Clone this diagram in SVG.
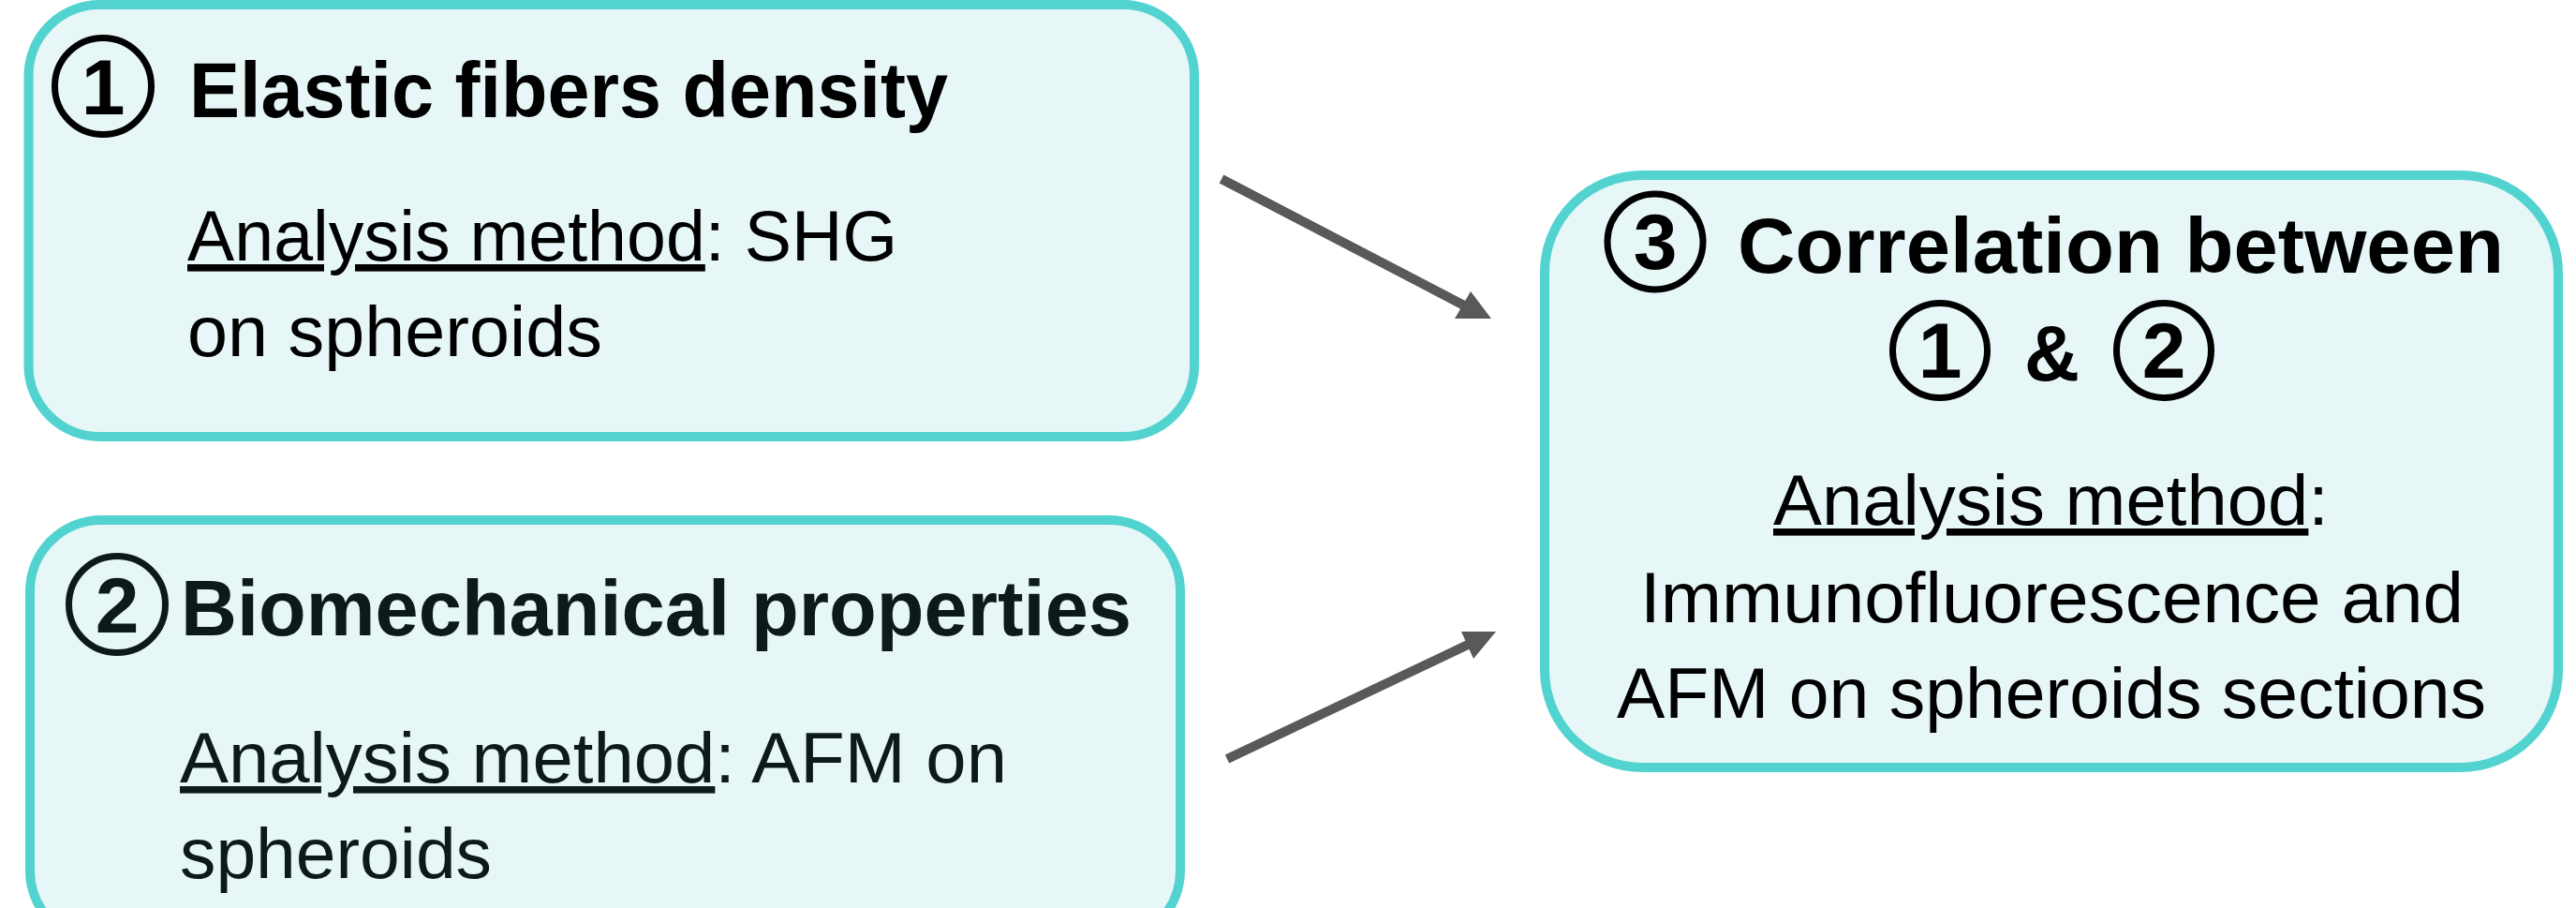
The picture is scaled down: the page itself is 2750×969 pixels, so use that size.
<svg xmlns="http://www.w3.org/2000/svg" width="2750" height="969" viewBox="0 0 2750 969">
<style>
.box{fill:#E7F7F7;stroke:#52D3D0;stroke-width:10}
.t{font-family:"Liberation Sans",Arial,sans-serif;fill:#000}
.b{font-weight:bold;font-size:84px}
.r{font-size:76px}
.c{fill:none;stroke:#000;stroke-width:7}
.d{font-family:"Liberation Sans",Arial,sans-serif;font-weight:bold;font-size:84px;text-anchor:middle}
.u{text-decoration:underline;text-decoration-skip-ink:none}
.arr{stroke:#595959;stroke-width:10;fill:none}
.head{fill:#595959}
</style>
<rect width="2750" height="969" fill="#fff"/>
<g id="node1">
<rect class="box" x="30.5" y="5" width="1244.5" height="461" rx="76" ry="76"/>
<circle class="c" cx="110" cy="92" r="51.5"/>
<text class="d" x="110" y="122">1</text>
<text class="t b" x="202" y="125" textLength="810" lengthAdjust="spacingAndGlyphs">Elastic fibers density</text>
<text class="t r" x="200" y="278" textLength="758" lengthAdjust="spacingAndGlyphs"><tspan class="u">Analysis method</tspan>: SHG</text>
<text class="t r" x="200" y="380" textLength="443" lengthAdjust="spacingAndGlyphs">on spheroids</text>
</g>
<g id="node2">
<rect class="box" x="32" y="555" width="1228" height="450" rx="76" ry="76"/>
<circle class="c" cx="125" cy="645" r="51.5" style="stroke:#0C1A1A"/>
<text class="d" x="125" y="675" fill="#0C1A1A">2</text>
<text class="t b" x="193" y="678" textLength="1015" lengthAdjust="spacingAndGlyphs" style="fill:#0C1A1A">Biomechanical properties</text>
<text class="t r" x="192" y="835" textLength="883" lengthAdjust="spacingAndGlyphs" style="fill:#0C1A1A"><tspan class="u">Analysis method</tspan>: AFM on</text>
<text class="t r" x="192" y="937" textLength="333" lengthAdjust="spacingAndGlyphs" style="fill:#0C1A1A">spheroids</text>
</g>
<g id="node3">
<rect class="box" x="1649" y="187" width="1082" height="632" rx="104" ry="104"/>
<circle class="c" cx="1767" cy="258" r="51"/>
<text class="d" x="1767" y="287">3</text>
<text class="t b" x="1855" y="291" textLength="818" lengthAdjust="spacingAndGlyphs">Correlation between</text>
<circle class="c" cx="2071" cy="374" r="50.5"/>
<text class="d" x="2071" y="403">1</text>
<text class="t b" x="2161" y="406" textLength="59" lengthAdjust="spacingAndGlyphs">&amp;</text>
<circle class="c" cx="2310" cy="374" r="50.5"/>
<text class="d" x="2310" y="403">2</text>
<text class="t r" x="1893" y="560" textLength="593" lengthAdjust="spacingAndGlyphs"><tspan class="u">Analysis method</tspan>:</text>
<text class="t r" x="1751" y="664" textLength="879" lengthAdjust="spacingAndGlyphs">Immunofluorescence and</text>
<text class="t r" x="1726" y="766" textLength="928" lengthAdjust="spacingAndGlyphs">AFM on spheroids sections</text>
</g>
<g id="connectors">
<line class="arr" x1="1304" y1="191" x2="1563" y2="326"/>
<polygon class="head" points="1570,311 1592,340 1553,340"/>
<line class="arr" x1="1310" y1="810" x2="1567" y2="688"/>
<polygon class="head" points="1560,674 1597,674 1573,703"/>
</g>
</svg>
